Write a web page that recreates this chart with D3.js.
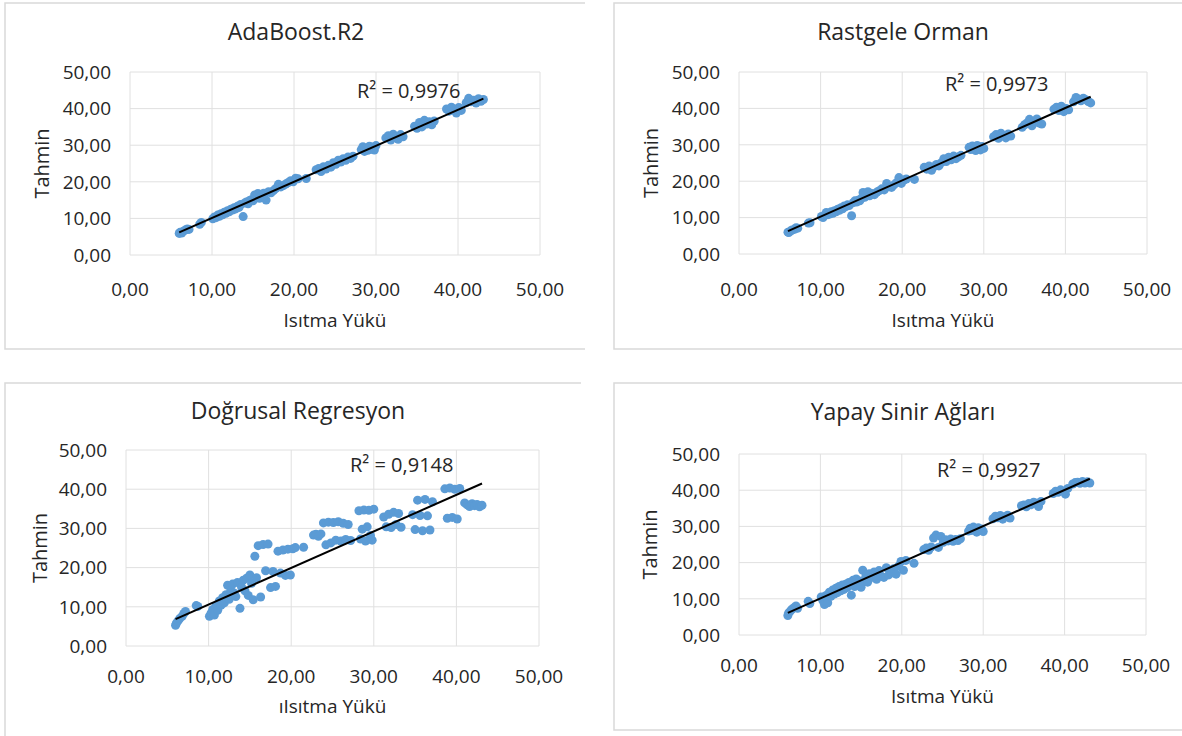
<!DOCTYPE html>
<html>
<head>
<meta charset="utf-8">
<script src="https://cdn.jsdelivr.net/npm/d3@7"></script>
<style>
  body { margin: 0; background: #fff; }
  text { font-family: 'Open Sans', sans-serif; fill: #262626; }
</style>
</head>
<body>
<svg id="chart" width="1182" height="736"></svg>
<script>
// chart texts
var titles = ['AdaBoost.R2', 'Rastgele Orman', 'Doğrusal Regresyon', 'Yapay Sinir Ağları'];
var r2Labels = ['R² = 0,9976', 'R² = 0,9973', 'R² = 0,9148', 'R² = 0,9927'];
var xTitles = ['Isıtma Yükü', 'Isıtma Yükü', 'ıIsıtma Yükü', 'Isıtma Yükü'];
var yTitle = 'Tahmin';
var ticks = [0, 10, 20, 30, 40, 50];

// actual heating load (shared x values)
var actual = [
  6.0, 6.1, 6.3, 6.5, 6.8, 7.0, 7.2,
  8.5, 8.7,
  10.1, 10.3, 10.5, 10.7, 10.9, 11.1, 11.3, 11.5, 11.7, 11.9, 12.1, 12.3, 12.5,
  12.7, 12.9, 13.1, 13.3, 13.5, 13.8, 14.0, 14.2, 14.4, 14.6, 14.8, 15.0,
  15.2, 15.4, 15.6, 15.8, 16.0, 16.3, 16.6, 16.9, 17.2, 17.5, 17.8, 18.1, 18.4,
  18.7, 19.0, 19.3, 19.6, 19.9, 20.2, 20.5, 21.5,
  22.7, 23.0, 23.3, 23.6, 23.9, 24.2, 24.5, 24.8, 25.1, 25.4, 25.7, 26.0, 26.3, 26.6, 26.9, 27.2,
  28.2, 28.4, 28.6, 28.8, 29.0, 29.2, 29.4, 29.6, 29.8, 30.0,
  31.2, 31.5, 31.8, 32.1, 32.4, 32.7, 33.0, 33.3,
  34.7, 35.0, 35.3, 35.6, 35.9, 36.2, 36.5, 36.8, 37.1,
  38.6, 38.9, 39.2, 39.5, 39.8, 40.1, 40.4,
  41.0, 41.3, 41.6, 41.9, 42.2, 42.5, 42.8, 43.1
];

var adaPred = [
  5.9, 6.2, 6.0, 6.5, 6.9, 7.1, 7.0,
  8.4, 8.9,
  9.9, 10.4, 10.2, 10.9, 10.6, 11.3, 11.0, 11.7, 11.4, 12.1, 11.8, 12.5, 12.3,
  12.9, 12.6, 13.3, 13.0, 13.8, 10.5, 14.2, 14.5, 14.0, 14.9, 15.1, 14.8,
  16.4, 15.6, 16.8, 15.5, 16.3, 16.9, 15.0, 17.3, 17.0, 17.6, 18.2, 19.3, 18.6,
  19.0, 19.4, 19.8, 20.3, 20.0, 21.0, 20.8, 20.9,
  23.3, 23.6, 22.8, 24.1, 23.5, 24.5, 24.0, 25.2, 24.8, 25.9, 25.4, 26.3, 25.9, 26.8, 26.4, 27.0,
  28.8, 29.6, 28.3, 29.2, 28.6, 29.7, 28.9, 29.5, 28.7, 29.9,
  32.0, 32.6, 31.4, 33.0, 32.2, 31.6, 32.9, 32.3,
  35.2, 34.6, 36.2, 35.0, 36.8, 35.8, 36.4, 35.6, 36.6,
  39.9, 39.3, 40.4, 39.8, 38.8, 40.3, 39.5,
  41.6, 42.8, 41.9, 42.3, 41.5, 42.7, 42.0, 42.5
];

var rfPred = [
  6.0, 5.9, 6.3, 6.6, 6.8, 7.2, 7.1,
  8.5, 8.6,
  10.3, 10.0, 10.7, 11.4, 10.8, 11.0, 11.6, 11.2, 11.9, 11.6, 12.3, 12.0, 12.7,
  12.4, 13.2, 13.0, 13.5, 13.3, 10.5, 14.1, 14.6, 14.3, 14.8, 14.6, 15.3,
  16.9, 15.6, 16.2, 17.1, 16.0, 16.6, 16.3, 17.0, 17.4, 17.9, 17.6, 19.4, 18.5,
  18.3, 19.0, 19.6, 21.0, 19.4, 20.3, 20.6, 20.5,
  23.8, 23.3, 24.2, 23.0, 24.0, 24.6, 24.2, 25.1, 26.2, 25.4, 26.6, 25.9, 26.9, 26.2, 26.7, 27.1,
  29.3, 28.7, 29.7, 29.0, 28.4, 29.8, 29.2, 28.6, 29.5, 29.0,
  32.2, 32.8, 31.8, 33.2, 32.5, 31.9, 33.0, 32.4,
  34.8, 35.5, 36.0, 37.0, 35.2, 36.5, 37.1, 36.0, 35.7,
  39.8, 40.3, 39.4, 40.6, 39.1, 40.0, 39.6,
  41.8, 43.0, 42.5, 42.1, 42.8, 42.4, 41.9, 41.5
];

var lrPred = [
  5.3, 5.8, 6.4, 7.0, 7.6, 8.3, 8.8,
  10.3, 10.1,
  7.6, 8.4, 9.3, 7.9, 10.2, 9.1, 11.5, 10.4, 12.3, 11.0, 13.1, 15.5, 11.9,
  14.2, 15.8, 13.5, 12.6, 16.2, 9.6, 15.0, 16.8, 14.1, 17.3, 12.9, 18.1,
  16.0, 11.8, 22.9, 17.4, 25.6, 12.5, 25.9, 19.2, 26.0, 14.9, 19.0, 15.2, 24.2,
  18.6, 24.5, 18.0, 24.7, 18.1, 24.8, 25.1, 25.2,
  28.3, 28.5, 28.0, 28.6, 31.4, 25.8, 31.6, 26.3, 31.5, 27.0, 31.7, 26.8, 31.3, 27.2, 31.0, 26.9,
  34.5, 27.3, 29.8, 34.7, 26.8, 30.4, 34.6, 28.2, 27.0, 34.9,
  32.9, 30.4, 33.6, 30.2, 34.1, 31.0, 33.8, 30.3,
  33.5, 29.7, 37.2, 33.3, 29.4, 37.4, 33.2, 29.6, 36.8,
  40.1, 32.6, 40.3, 32.8, 40.0, 32.4, 40.2,
  36.5, 36.0, 35.6, 36.3, 35.8, 36.1, 35.5, 35.9
];

var annPred = [
  5.4, 6.1, 6.6, 7.1, 7.6, 8.0, 7.4,
  9.3, 8.7,
  10.5, 9.5, 8.4, 10.9, 8.9, 11.8, 10.7, 12.4, 11.3, 12.9, 11.7, 13.4, 12.2,
  13.8, 12.6, 14.0, 13.1, 14.5, 11.0, 15.1, 13.4, 15.5, 13.8, 14.9, 13.2,
  17.9, 15.2, 16.3, 14.6, 16.9, 15.9, 17.4, 15.4, 17.8, 16.2, 15.9, 18.6, 16.6,
  17.2, 18.3, 16.8, 19.0, 20.3, 17.9, 20.6, 19.8,
  23.6, 24.0, 23.4, 24.3, 26.8, 27.6, 24.2, 27.2, 25.6, 26.3, 26.0, 26.5, 25.9, 26.4, 26.1, 26.6,
  28.7, 29.5, 28.9, 29.8, 29.1, 28.4, 29.6, 28.9, 29.3, 28.6,
  32.1, 32.8, 32.4, 33.0, 32.0, 32.7, 33.1, 32.3,
  35.7, 35.9, 35.4, 36.3, 36.0, 36.7, 36.4, 35.5, 36.9,
  39.1, 39.7, 39.4, 40.1, 39.8, 38.9, 40.5,
  41.7, 42.1, 42.2, 41.9, 42.4, 42.0, 42.3, 42.0
];

// Excel linear trendlines (y = a*x + b)
var trendSlope = [0.985, 0.995, 0.933, 0.999];
var trendIntercept = [0.28, 0.32, 1.24, 0.10];

var preds = [adaPred, rfPred, lrPred, annPred];

// layout of the four chart boxes
var panels = [
  { border: 'M585,3H5V349H585', x: [130, 540], y: [255, 72], titleX: 296, titleY: 40, r2: [357, 98], tickY: 41, xTitleY: 72, yTitleX: 88 },
  { border: 'M1182,3H614V349H1182', x: [739, 1147], y: [254, 72], titleX: 903, titleY: 40, r2: [945, 91], tickY: 42, xTitleY: 73, yTitleX: 88 },
  { border: 'M581,383H5V736', x: [126, 539], y: [646, 450], titleX: 298, titleY: 419, r2: [350, 472], tickY: 37, xTitleY: 67, yTitleX: 86 },
  { border: 'M1182,383H614V730H1182', x: [739, 1146], y: [635, 454], titleX: 903, titleY: 420, r2: [937, 477], tickY: 37, xTitleY: 68, yTitleX: 89 }
];

var fmt = d3.formatLocale({ decimal: ',', thousands: '.', grouping: [3], currency: ['', ''] }).format('.2f');

var svg = d3.select('#chart');

panels.forEach(function(p, i) {
    var g = svg.append('g');
    var x = d3.scaleLinear().domain([0, 50]).range(p.x);
    var y = d3.scaleLinear().domain([0, 50]).range(p.y);

    g.append('path')
        .attr('d', p.border)
        .style('fill', 'none')
        .style('stroke', '#d9d9d9')
        .style('stroke-width', 1.5);

    // gridlines
    g.selectAll('.hgrid').data(ticks).enter().append('line')
        .attr('x1', p.x[0]).attr('x2', p.x[1])
        .attr('y1', function(d) { return y(d); })
        .attr('y2', function(d) { return y(d); })
        .style('stroke', '#e0e0e0')
        .style('stroke-width', 1);
    g.selectAll('.vgrid').data(ticks).enter().append('line')
        .attr('y1', p.y[0]).attr('y2', p.y[1])
        .attr('x1', function(d) { return x(d); })
        .attr('x2', function(d) { return x(d); })
        .style('stroke', '#e0e0e0')
        .style('stroke-width', 1);

    // tick labels
    g.selectAll('.ytick').data(ticks).enter().append('text')
        .attr('x', p.x[0] - 19)
        .attr('y', function(d) { return y(d); })
        .attr('dy', '0.36em')
        .style('text-anchor', 'end')
        .style('font-size', '19px')
        .text(function(d) { return fmt(d); });
    g.selectAll('.xtick').data(ticks).enter().append('text')
        .attr('x', function(d) { return x(d); })
        .attr('y', p.y[0] + p.tickY)
        .style('text-anchor', 'middle')
        .style('font-size', '19px')
        .text(function(d) { return fmt(d); });

    // titles
    g.append('text')
        .attr('x', p.titleX)
        .attr('y', p.titleY)
        .style('text-anchor', 'middle')
        .style('font-size', '23px')
        .text(titles[i]);
    g.append('text')
        .attr('x', (p.x[0] + p.x[1]) / 2)
        .attr('y', p.y[0] + p.xTitleY)
        .style('text-anchor', 'middle')
        .style('font-size', '19px')
        .text(xTitles[i]);
    g.append('text')
        .attr('transform', 'translate(' + (p.x[0] - p.yTitleX) + ',' + ((p.y[0] + p.y[1]) / 2) + ') rotate(-90)')
        .attr('dy', '0.35em')
        .style('text-anchor', 'middle')
        .style('font-size', '20px')
        .text(yTitle);

    // points
    g.selectAll('circle').data(actual).enter().append('circle')
        .attr('cx', function(d) { return x(d); })
        .attr('cy', function(d, j) { return y(preds[i][j]); })
        .attr('r', 4.5)
        .style('fill', '#5b9bd5');

    // trendline
    var x0 = d3.min(actual), x1 = d3.max(actual);
    g.append('line')
        .attr('x1', x(x0)).attr('y1', y(trendSlope[i] * x0 + trendIntercept[i]))
        .attr('x2', x(x1)).attr('y2', y(trendSlope[i] * x1 + trendIntercept[i]))
        .style('stroke', '#000')
        .style('stroke-width', 2);

    g.append('text')
        .attr('x', p.r2[0])
        .attr('y', p.r2[1])
        .style('font-size', '20px')
        .text(r2Labels[i]);
});
</script>
</body>
</html>
